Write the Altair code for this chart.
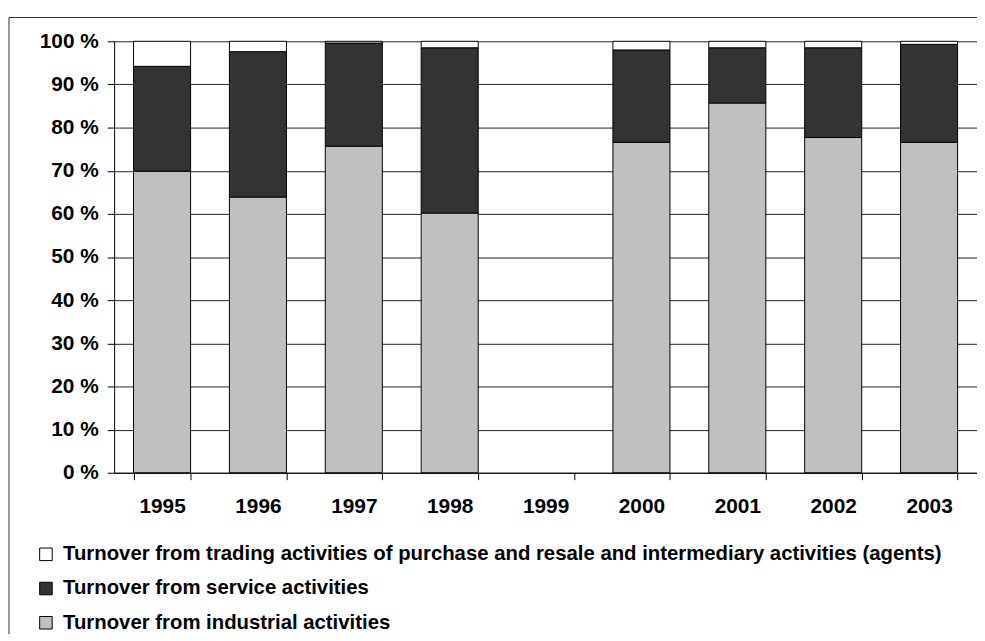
import altair as alt
import pandas as pd

years = ["1995", "1996", "1997", "1998", "1999", "2000", "2001", "2002", "2003"]
industrial = [69.9, 63.9, 75.7, 60.2, None, 76.6, 85.7, 77.7, 76.6]
service = [24.3, 33.7, 23.9, 38.3, None, 21.4, 12.8, 20.8, 22.7]
trading = [5.8, 2.4, 0.4, 1.5, None, 2.0, 1.5, 1.5, 0.7]

series_names = [
    "Turnover from trading activities of purchase and resale and intermediary activities (agents)",
    "Turnover from service activities",
    "Turnover from industrial activities",
]
series_colors = ["#FFFFFF", "#333333", "#C0C0C0"]
y_ticks = [0, 10, 20, 30, 40, 50, 60, 70, 80, 90, 100]

rows = []
for order, (name, vals) in enumerate(
    [(series_names[2], industrial), (series_names[1], service), (series_names[0], trading)]
):
    for yr, v in zip(years, vals):
        if v is not None:
            rows.append({"year": yr, "series": name, "value": v, "ord": order})
df = pd.DataFrame(rows)

FONT = "Liberation Sans"

bars = alt.Chart(df).mark_bar(stroke="#000000", strokeWidth=1).encode(
    x=alt.X(
        "year:N",
        scale=alt.Scale(domain=years, paddingInner=0.405, paddingOuter=0.2025),
        axis=alt.Axis(
            title=None,
            labelAngle=0,
            tickBand="extent",
            tickSize=7,
            labelPadding=16,
            domainColor="#000000",
            tickColor="#000000",
            grid=False,
        ),
    ),
    y=alt.Y(
        "value:Q",
        stack="zero",
        scale=alt.Scale(domain=[0, 100], nice=False),
        axis=alt.Axis(
            title=None,
            values=y_ticks,
            labelExpr="datum.value + ' %'",
            tickSize=7,
            labelPadding=9,
            grid=True,
            gridColor="#222222",
            gridWidth=1,
            domainColor="#000000",
            tickColor="#000000",
        ),
    ),
    color=alt.Color(
        "series:N",
        scale=alt.Scale(domain=series_names, range=series_colors),
        legend=alt.Legend(
            title=None,
            orient="none",
            legendX=-79,
            legendY=507,
            direction="vertical",
            symbolType="square",
            symbolSize=160,
            symbolStrokeColor="#000000",
            symbolStrokeWidth=1,
            labelFont=FONT,
            labelFontWeight="bold",
            labelFontSize=20.5,
            labelColor="#000000",
            labelLimit=0,
            labelOffset=7,
            rowPadding=13.5,
            padding=0,
        ),
    ),
    order=alt.Order("ord:Q"),
)

frame_df = pd.DataFrame({"a": [0]})
frame_top = alt.Chart(frame_df).mark_rule(stroke="#333333", strokeWidth=1).encode(
    x=alt.value(-106),
    x2=alt.value(1000),
    y=alt.value(-24),
)
frame_left = alt.Chart(frame_df).mark_rule(stroke="#333333", strokeWidth=1).encode(
    x=alt.value(-106),
    y=alt.value(-24),
    y2=alt.value(700),
)

chart = (
    alt.layer(frame_top, frame_left, bars)
    .properties(
        width=870,
        height=435,
        padding={"left": 107, "top": 31, "right": 0, "bottom": 160},
        autosize=alt.AutoSizeParams(type="none"),
        background="#FFFFFF",
    )
    .configure_view(strokeWidth=0)
    .configure_axis(
        labelFont=FONT,
        labelFontWeight="bold",
        labelFontSize=21,
        labelColor="#000000",
    )
)

chart.save("out.html", embed_options={"renderer": "svg", "actions": False})
